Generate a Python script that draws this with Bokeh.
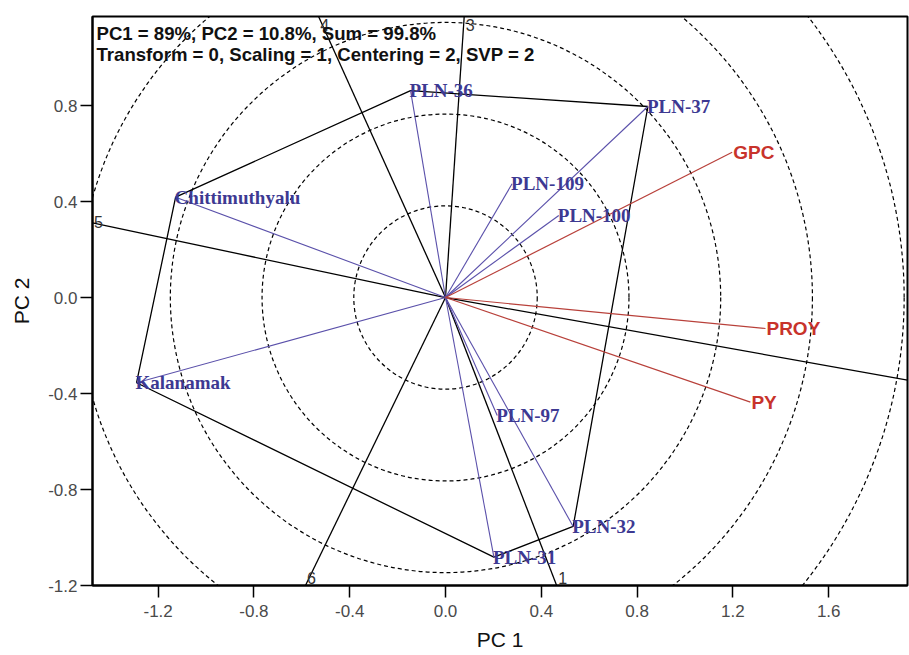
from bokeh.plotting import figure
from bokeh.models import Range1d, FixedTicker, ColumnDataSource, LabelSet, Label
from bokeh.embed import file_html
from bokeh.resources import INLINE
from bokeh.core.properties import value

# ---------------- data ----------------
genotypes = ["PLN-36", "PLN-37", "Chittimuthyalu", "Kalanamak", "PLN-109",
             "PLN-100", "PLN-97", "PLN-32", "PLN-31"]
gen_pc1 = [-0.146, 0.845, -1.127, -1.290, 0.278, 0.473, 0.216, 0.533, 0.202]
gen_pc2 = [0.862, 0.796, 0.418, -0.355, 0.474, 0.342, -0.492, -0.954, -1.082]

traits = ["GPC", "PROY", "PY"]
trait_pc1 = [1.197, 1.336, 1.273]
trait_pc2 = [0.605, -0.129, -0.436]

# polygon (convex hull) vertices in order
hull = ["PLN-37", "PLN-32", "PLN-31", "Kalanamak", "Chittimuthyalu", "PLN-36"]
# sector-ray labels for edges hull[i] -> hull[i+1]
ray_labels = ["2", "1", "6", "5", "4", "3"]
ray_label_shown = [False, True, True, True, True, True]

circle_step = 0.383
n_circles = 6

x_ticks = [-1.2, -0.8, -0.4, 0.0, 0.4, 0.8, 1.2, 1.6]
x_tick_labels = ["-1.2", "-0.8", "-0.4", "0.0", "0.4", "0.8", "1.2", "1.6"]
y_ticks = [-1.2, -0.8, -0.4, 0.0, 0.4, 0.8]
y_tick_labels = ["-1.2", "-0.8", "-0.4", "0.0", "0.4", "0.8"]

x_min, x_max = -1.474, 1.929
y_min, y_max = -1.2, 1.171

info_line1 = "PC1 = 89%, PC2 = 10.8%, Sum = 99.8%"
info_line2 = "Transform = 0, Scaling = 1, Centering = 2, SVP = 2"

# ---------------- figure ----------------
p = figure(x_range=Range1d(x_min, x_max), y_range=Range1d(y_min, y_max),
           frame_width=815, frame_height=569,
           min_border_left=92, min_border_right=2, min_border_top=16, min_border_bottom=62,
           output_backend="svg", toolbar_location=None)
p.grid.visible = False
p.outline_line_color = "black"
p.outline_line_width = 2
p.background_fill_color = "white"
p.border_fill_color = "white"

for ax in (p.xaxis[0], p.yaxis[0]):
    ax.axis_line_color = "black"
    ax.axis_line_width = 2
    ax.major_tick_out = 12
    ax.major_tick_in = 0
    ax.minor_tick_out = 0
    ax.minor_tick_in = 0
    ax.major_tick_line_color = "black"
    ax.major_tick_line_width = 1.5
    ax.major_label_text_font = "Liberation Sans"
    ax.major_label_text_font_size = "17px"
    ax.major_label_text_color = "#4a4a4a"
    ax.axis_label_text_font = "Liberation Sans"
    ax.axis_label_text_font_size = "21px"
    ax.axis_label_text_font_style = "normal"
    ax.axis_label_text_color = "#111111"

p.xaxis[0].ticker = FixedTicker(ticks=x_ticks)
p.xaxis[0].major_label_overrides = {t: s for t, s in zip(x_ticks, x_tick_labels)}
p.yaxis[0].ticker = FixedTicker(ticks=y_ticks)
p.yaxis[0].major_label_overrides = {t: s for t, s in zip(y_ticks, y_tick_labels)}
p.xaxis[0].axis_label = "PC 1"
p.yaxis[0].axis_label = "PC 2"
p.xaxis[0].major_label_standoff = 7
p.yaxis[0].major_label_standoff = 3
p.xaxis[0].axis_label_standoff = 8
p.yaxis[0].axis_label_standoff = 12

# concentric dashed circles
radii = [circle_step * (i + 1) for i in range(n_circles)]
p.circle(x=[0.0] * n_circles, y=[0.0] * n_circles, radius=radii,
         fill_color=None, line_color="black", line_width=1.2, line_dash="4 3")

# sector rays perpendicular to polygon edges
pos = {g: (x, y) for g, x, y in zip(genotypes, gen_pc1, gen_pc2)}
ray_x, ray_y = [], []
lab_x, lab_y, lab_t, lab_xo, lab_yo = [], [], [], [], []
for i in range(len(hull)):
    ax_, ay_ = pos[hull[i]]
    bx_, by_ = pos[hull[(i + 1) % len(hull)]]
    dx, dy = bx_ - ax_, by_ - ay_
    t = -(ax_ * dx + ay_ * dy) / (dx * dx + dy * dy)
    fx, fy = ax_ + t * dx, ay_ + t * dy
    sx = (x_max / fx) if fx > 0 else (x_min / fx)
    sy = (y_max / fy) if fy > 0 else (y_min / fy)
    s = min(sx, sy)
    ex, ey = fx * s, fy * s
    ray_x.append([0.0, ex])
    ray_y.append([0.0, ey])
    if ray_label_shown[i]:
        lab_x.append(ex)
        lab_y.append(ey)
        lab_t.append(ray_labels[i])
        if sy <= sx:   # ends on top or bottom edge
            lab_xo.append(6)
            lab_yo.append(-8 if fy > 0 else 8)
        else:          # ends on left or right edge
            lab_xo.append(6 if fx < 0 else -6)
            lab_yo.append(1)
p.multi_line(xs=ray_x, ys=ray_y, line_color="black", line_width=1.3)

# polygon
hx = [pos[g][0] for g in hull] + [pos[hull[0]][0]]
hy = [pos[g][1] for g in hull] + [pos[hull[0]][1]]
p.line(hx, hy, line_color="black", line_width=1.3)

# genotype vectors
p.multi_line(xs=[[0.0, x] for x in gen_pc1], ys=[[0.0, y] for y in gen_pc2],
             line_color="#5a50aa", line_width=1.1)
# trait vectors
p.multi_line(xs=[[0.0, x] for x in trait_pc1], ys=[[0.0, y] for y in trait_pc2],
             line_color="#b8403a", line_width=1.2)

gsrc = ColumnDataSource(dict(x=gen_pc1, y=gen_pc2, t=genotypes))
p.add_layout(LabelSet(x="x", y="y", text="t", source=gsrc,
                      text_font=value("Liberation Serif"), text_font_style="bold",
                      text_font_size="19px", text_color="#3d3992",
                      text_align="left", text_baseline="middle", x_offset=-1))
tsrc = ColumnDataSource(dict(x=trait_pc1, y=trait_pc2, t=traits))
p.add_layout(LabelSet(x="x", y="y", text="t", source=tsrc,
                      text_font=value("Liberation Sans"), text_font_style="bold",
                      text_font_size="19px", text_color="#c8332b",
                      text_align="left", text_baseline="middle", x_offset=1))
rsrc = ColumnDataSource(dict(x=lab_x, y=lab_y, t=lab_t, xo=lab_xo, yo=lab_yo))
p.add_layout(LabelSet(x="x", y="y", text="t", source=rsrc,
                      text_font=value("Liberation Sans"), text_font_size="16px",
                      text_color="#333333", text_align="center", text_baseline="middle",
                      x_offset="xo", y_offset="yo"))

p.add_layout(Label(x=x_min, y=y_max, x_offset=4, y_offset=-6, text=info_line1,
                   text_font="Liberation Sans", text_font_style="bold",
                   text_font_size="18.6px", text_color="#111111", text_baseline="top"))
p.add_layout(Label(x=x_min, y=y_max, x_offset=4, y_offset=-27, text=info_line2,
                   text_font="Liberation Sans", text_font_style="bold",
                   text_font_size="18.6px", text_color="#111111", text_baseline="top"))

open("out.html", "w").write(file_html(p, INLINE))
